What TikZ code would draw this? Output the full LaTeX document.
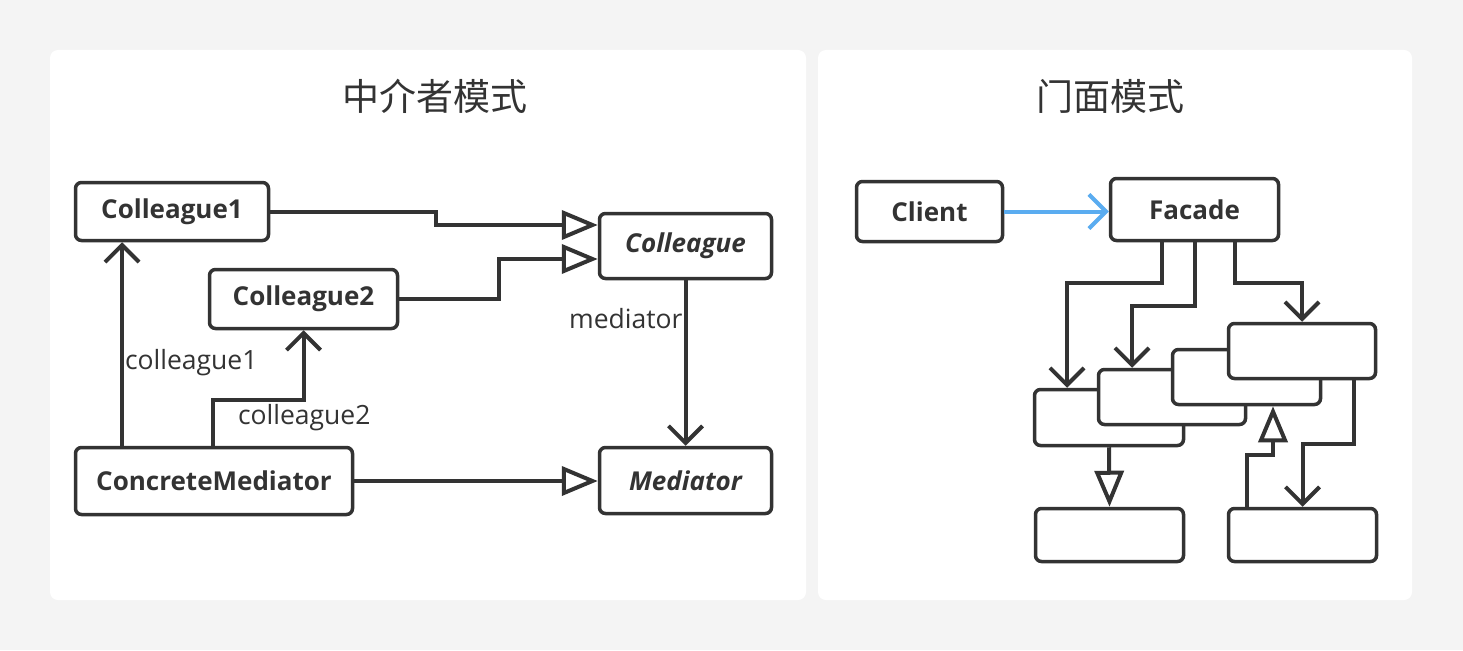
\documentclass[tikz,border=0pt]{standalone}
\usepackage{fontspec}
\setmainfont{Open Sans}
\newfontfamily\cjk{Noto Sans CJK SC}
\usepackage{tikz}
\usetikzlibrary{arrows.meta,positioning,calc}
\definecolor{umlBack}{RGB}{244,244,244}
\definecolor{umlInk}{RGB}{51,51,51}
\definecolor{umlBlue}{RGB}{90,172,240}

\begin{document}
\begin{tikzpicture}[x=1pt, y=-1pt,
    box/.style={draw=umlInk, line width=3.5pt, rounded corners=6pt, fill=white, inner sep=0pt,
                text=umlInk, font=\fontsize{26}{30}\selectfont\bfseries},
    link/.style={draw=umlInk, line width=4pt},
    assoc/.style={-{Straight Barb[length=17pt,width=34pt]}},
    inherit/.style={-{Triangle[open,length=36pt,width=29pt]}},
    role/.style={text=umlInk, inner sep=1pt, font=\fontsize{26.5}{30}\selectfont},
    heading/.style={text=umlInk, font=\cjk\fontsize{37}{40}\selectfont}]
    \useasboundingbox (0,0) rectangle (1463,650);
    \fill[umlBack] (0,0) rectangle (1463,650);

    % Panels
    \fill[white, rounded corners=8pt] (50,50) rectangle (806,600);
    \fill[white, rounded corners=8pt] (818,50) rectangle (1412,600);
    \node[heading] (titleMed) at (435,96) {中介者模式};
    \node[heading] (titleFac) at (1110,96) {门面模式};

    % Mediator pattern
    \node[box, minimum width=193pt, minimum height=58pt] (colleague1) at (172,211.5) {Colleague1};
    \node[box, minimum width=188pt, minimum height=59pt] (colleague2) at (303.5,299) {Colleague2};
    \node[box, minimum width=172pt, minimum height=65pt] (colleague) at (685.5,246) {\itshape Colleague};
    \node[box, minimum width=172pt, minimum height=66pt] (mediator) at (685.5,480.5) {\itshape Mediator};
    \node[box, minimum width=277pt, minimum height=67pt] (concrete) at (214,481) {ConcreteMediator};

    \draw[link, inherit] (colleague1.east) -- ++(166,0) |- ([yshift=21pt]colleague.west);
    \draw[link, inherit] (colleague2.east) -- ++(100,0) |- ([yshift=-13pt]colleague.west);
    \draw[link, inherit] (concrete.east) -- (concrete.east -| mediator.west);
    \draw[link, assoc] (colleague.south) -- node[role, pos=0.23, left] {mediator} (mediator.north);
    \draw[link, assoc] ([xshift=-92pt]concrete.north) -- node[role, pos=0.41, right] {colleague1} ([xshift=-50pt]colleague1.south);
    \draw[link, assoc] ([xshift=-1pt]concrete.north) -- node[role, pos=0.62, right, xshift=22pt] {colleague2} ++(0,-46) -| (colleague2.south);

    % Facade pattern
    \node[box, minimum width=146pt, minimum height=60pt] (client) at (929.5,211.5) {Client};
    \node[box, minimum width=168pt, minimum height=62pt] (facade) at (1194.5,209.5) {Facade};
    \node[box, minimum width=149pt, minimum height=56pt] (sub1) at (1109,417.5) {};
    \node[box, minimum width=147pt, minimum height=55pt] (sub2) at (1172,397) {};
    \node[box, minimum width=148pt, minimum height=55pt] (sub3) at (1246.5,377) {};
    \node[box, minimum width=147pt, minimum height=55pt] (sub4) at (1302,351) {};
    \node[box, minimum width=148pt, minimum height=53pt] (lower1) at (1109.5,535) {};
    \node[box, minimum width=148pt, minimum height=53pt] (lower2) at (1302.5,535) {};

    \draw[line width=4pt, umlBlue, assoc] (client.east) -- (client.east -| facade.west);
    \draw[link, assoc] ([xshift=-32.5pt]facade.south) -- ++(0,41) -| ([xshift=-42pt]sub1.north);
    \draw[link, assoc] (facade.south) -- ++(0,64) -| ([xshift=-40pt]sub2.north);
    \draw[link, assoc] ([xshift=40.5pt]facade.south) -- ++(0,41) -| (sub4.north);
    \draw[link, inherit] (sub1.south) -- (lower1.north);
    \draw[link, inherit] ([xshift=-55.5pt]lower2.north) -- ++(0,-52) -| ([xshift=26.5pt]sub3.south);
    \draw[link, assoc] ([xshift=52pt]sub4.south) -- ++(0,64) -| (lower2.north);
\end{tikzpicture}
\end{document}
